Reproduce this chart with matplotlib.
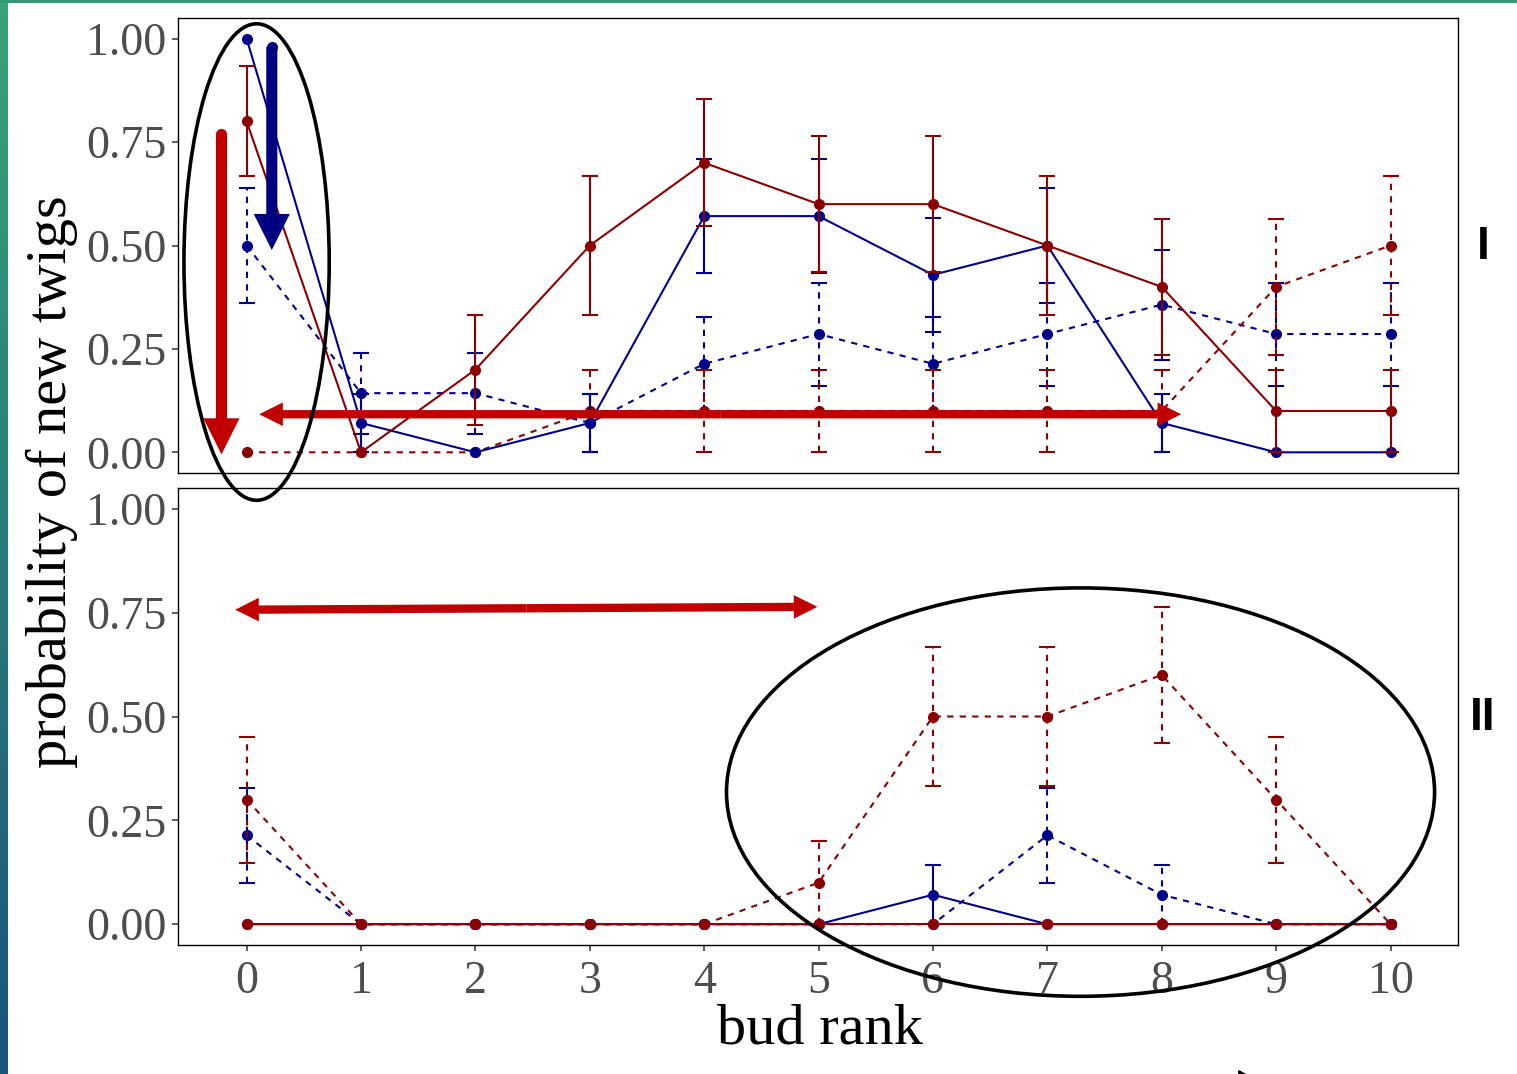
import numpy as np
import matplotlib
matplotlib.use("Agg")
import matplotlib.pyplot as plt
from matplotlib.patches import Ellipse, FancyArrowPatch, ArrowStyle

# bud rank
rank = np.arange(11)

# panel I
i_red_solid = [0.80, 0.00, 0.20, 0.50, 0.70, 0.60, 0.60, 0.50, 0.40, 0.10, 0.10]
i_red_solid_lo = [0.667, 0.00, 0.067, 0.333, 0.547, 0.436, 0.436, 0.333, 0.236, 0.00, 0.00]
i_red_solid_hi = [0.933, 0.00, 0.333, 0.667, 0.853, 0.764, 0.764, 0.667, 0.564, 0.20, 0.20]

i_blue_solid = [1.00, 0.071, 0.00, 0.071, 0.571, 0.571, 0.429, 0.50, 0.071, 0.00, 0.00]
i_blue_solid_lo = [1.00, 0.00, 0.00, 0.00, 0.434, 0.434, 0.292, 0.36, 0.00, 0.00, 0.00]
i_blue_solid_hi = [1.00, 0.142, 0.00, 0.142, 0.708, 0.708, 0.566, 0.64, 0.142, 0.00, 0.00]

i_blue_dash = [0.50, 0.143, 0.143, 0.071, 0.214, 0.286, 0.214, 0.286, 0.357, 0.286, 0.286]
i_blue_dash_lo = [0.36, 0.045, 0.045, 0.00, 0.10, 0.16, 0.10, 0.16, 0.224, 0.16, 0.16]
i_blue_dash_hi = [0.64, 0.24, 0.24, 0.142, 0.328, 0.41, 0.328, 0.41, 0.49, 0.41, 0.41]

i_red_dash = [0.00, 0.00, 0.00, 0.10, 0.10, 0.10, 0.10, 0.10, 0.10, 0.40, 0.50]
i_red_dash_lo = [0.00, 0.00, 0.00, 0.00, 0.00, 0.00, 0.00, 0.00, 0.00, 0.236, 0.333]
i_red_dash_hi = [0.00, 0.00, 0.00, 0.20, 0.20, 0.20, 0.20, 0.20, 0.20, 0.564, 0.667]

# panel II
ii_red_solid = [0.0] * 11
ii_blue_solid = [0.00, 0.00, 0.00, 0.00, 0.00, 0.00, 0.071, 0.00, 0.00, 0.00, 0.00]
ii_blue_solid_lo = [0.00, 0.00, 0.00, 0.00, 0.00, 0.00, 0.00, 0.00, 0.00, 0.00, 0.00]
ii_blue_solid_hi = [0.00, 0.00, 0.00, 0.00, 0.00, 0.00, 0.142, 0.00, 0.00, 0.00, 0.00]

ii_blue_dash = [0.214, 0.00, 0.00, 0.00, 0.00, 0.00, 0.00, 0.214, 0.071, 0.00, 0.00]
ii_blue_dash_lo = [0.10, 0.00, 0.00, 0.00, 0.00, 0.00, 0.00, 0.10, 0.00, 0.00, 0.00]
ii_blue_dash_hi = [0.328, 0.00, 0.00, 0.00, 0.00, 0.00, 0.00, 0.328, 0.142, 0.00, 0.00]

ii_red_dash = [0.30, 0.00, 0.00, 0.00, 0.00, 0.10, 0.50, 0.50, 0.60, 0.30, 0.00]
ii_red_dash_lo = [0.147, 0.00, 0.00, 0.00, 0.00, 0.00, 0.333, 0.333, 0.436, 0.147, 0.00]
ii_red_dash_hi = [0.45, 0.00, 0.00, 0.00, 0.00, 0.20, 0.667, 0.667, 0.764, 0.45, 0.00]

DARKRED = "#8B0000"
NAVY = "#00008B"
ARROW_RED = "#C00000"
ARROW_BLUE = "#000080"
TICK_GREY = "#4D4D4D"
SERIF = "Liberation Serif"


def series(ax, y, lo, hi, color, dashed, z):
    y = np.array(y, float)
    lo = np.array(lo, float)
    hi = np.array(hi, float)
    ls = (0, (3, 3)) if dashed else "-"
    m = (hi - lo) > 1e-9
    if m.any():
        eb = ax.errorbar(rank[m], y[m], yerr=[y[m] - lo[m], hi[m] - y[m]],
                         fmt="none", ecolor=color, elinewidth=1.5,
                         capsize=5.5, capthick=1.5, zorder=z)
        for lc in eb[2]:
            lc.set_linestyle(ls)
    ax.plot(rank, y, color=color, ls=ls, lw=1.5, marker="o", ms=7, zorder=z + 0.1)


def style(ax, show_x):
    ax.set_xlim(-0.6, 10.59)
    ax.set_ylim(-0.05, 1.05)
    ax.set_yticks([0, 0.25, 0.5, 0.75, 1.0])
    ax.set_yticklabels(["0.00", "0.25", "0.50", "0.75", "1.00"])
    ax.set_xticks(rank)
    for sp in ax.spines.values():
        sp.set_color("black")
        sp.set_linewidth(1.0)
    ax.tick_params(axis="both", length=4.5, width=1.1, color="#333333",
                   labelcolor=TICK_GREY, labelsize=33, pad=4)
    ax.tick_params(axis="x", pad=7)
    if not show_x:
        ax.tick_params(axis="x", bottom=False, labelbottom=False)
    for lab in ax.get_xticklabels() + ax.get_yticklabels():
        lab.set_family(SERIF)


W, H = 1517, 1074
fig = plt.figure(figsize=(W / 100, H / 100), dpi=100)
fig.patch.set_facecolor("white")

# coloured slide edge (left and top)
strip = fig.add_axes([0, 0, 8 / W, 1])
grad = np.linspace(0, 1, 256).reshape(-1, 1)
top_c = np.array([0.23, 0.64, 0.47])
bot_c = np.array([0.10, 0.33, 0.49])
strip.imshow(top_c + grad[..., None] * (bot_c - top_c), aspect="auto",
             extent=[0, 1, 0, 1])
strip.axis("off")
topstrip = fig.add_axes([0, 1 - 2.5 / H, 1, 2.5 / H])
topstrip.set_facecolor((0.20, 0.60, 0.47))
topstrip.set_xticks([])
topstrip.set_yticks([])
for sp in topstrip.spines.values():
    sp.set_visible(False)

ax1 = fig.add_axes([178 / W, 1 - 473 / H, 1280 / W, 455 / H])
ax2 = fig.add_axes([178 / W, 1 - 945 / H, 1280 / W, 457 / H])

series(ax1, i_blue_dash, i_blue_dash_lo, i_blue_dash_hi, NAVY, True, 2)
series(ax1, i_red_dash, i_red_dash_lo, i_red_dash_hi, DARKRED, True, 2.5)
series(ax1, i_blue_solid, i_blue_solid_lo, i_blue_solid_hi, NAVY, False, 3)
series(ax1, i_red_solid, i_red_solid_lo, i_red_solid_hi, DARKRED, False, 3.5)

series(ax2, ii_blue_dash, ii_blue_dash_lo, ii_blue_dash_hi, NAVY, True, 2)
series(ax2, ii_red_dash, ii_red_dash_lo, ii_red_dash_hi, DARKRED, True, 2.5)
series(ax2, ii_blue_solid, ii_blue_solid_lo, ii_blue_solid_hi, NAVY, False, 3)
series(ax2, ii_red_solid, ii_red_solid, ii_red_solid, DARKRED, False, 3.5)

style(ax1, False)
style(ax2, True)

fig.text(0.034, 0.552, "probability of new twigs", rotation=90, ha="center",
         va="center", fontsize=42, family=SERIF, color="black")
fig.text(0.5405, 0.041, "bud rank", ha="center", va="center", fontsize=42,
         family=SERIF, color="black")
fig.text(1483 / W, 1 - 247 / H, "I", ha="center", va="center", fontsize=33,
         fontweight="bold", family="Liberation Sans")
fig.text(1483 / W, 1 - 718 / H, "II", ha="center", va="center", fontsize=33,
         fontweight="bold", family="Liberation Sans")

# annotations
big = ArrowStyle.Simple(head_length=26, head_width=26, tail_width=8)
thin = ArrowStyle.Simple(head_length=17, head_width=17, tail_width=6)


def arrow(ax, a, b, st, color, round_tail=False):
    p = FancyArrowPatch(a, b, arrowstyle=st, mutation_scale=1, color=color,
                        shrinkA=0, shrinkB=0, lw=0, transform=ax.transData,
                        zorder=10, clip_on=False)
    fig.add_artist(p)
    if round_tail:
        ax.plot([a[0]], [a[1]], marker="o", ms=8, color=color, mew=0,
                clip_on=False, zorder=10)


def double_arrow(ax, a, b, st, color):
    mid = ((a[0] + b[0]) / 2, (a[1] + b[1]) / 2)
    arrow(ax, mid, a, st, color)
    arrow(ax, mid, b, st, color)


arrow(ax1, (0.22, 0.98), (0.22, 0.489), big, ARROW_BLUE, True)
arrow(ax1, (-0.22, 0.77), (-0.22, -0.005), big, ARROW_RED, True)
double_arrow(ax1, (0.11, 0.092), (8.17, 0.092), thin, ARROW_RED)
double_arrow(ax2, (-0.10, 0.757), (4.99, 0.764), thin, ARROW_RED)

e1 = Ellipse((0.087, 0.46), 1.27, 1.152, fill=False, lw=2.6, ec="black",
             transform=ax1.transData, zorder=11)
fig.add_artist(e1)
e2 = Ellipse((7.29, 0.318), 6.19, 0.983, fill=False, lw=2.6, ec="black",
             transform=ax2.transData, zorder=11)
fig.add_artist(e2)

# small arrow tip cut off at the bottom edge
fig.add_artist(FancyArrowPatch((1252 / W, 1 - 1090 / H), (1236 / W, 1 - 1067 / H),
                               arrowstyle="-|>", mutation_scale=14, lw=2,
                               color="black", transform=fig.transFigure, zorder=11))

fig.savefig("out.png", dpi=100, facecolor="white")
